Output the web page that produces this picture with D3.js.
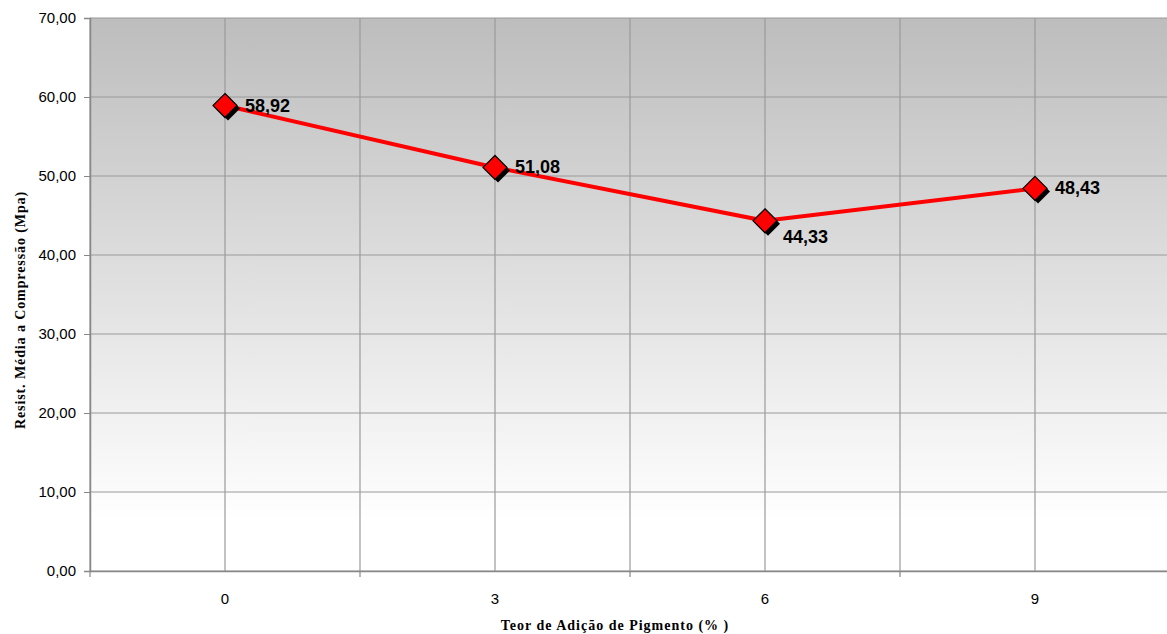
<!DOCTYPE html>
<html><head><meta charset="utf-8">
<script src="https://cdn.jsdelivr.net/npm/d3@7"></script>
<style>body{margin:0;background:#fff;overflow:hidden}</style>
</head><body><svg id="c" width="1167" height="634"></svg>
<script>
const categories = ["0","3","6","9"];
const values = [58.92, 51.08, 44.33, 48.43];
const valueLabels = ["58,92","51,08","44,33","48,43"];
const yTicks = [0,10,20,30,40,50,60,70];
const yTitle = "Resist. Média a Compressão (Mpa)";
const xTitle = "Teor de Adição de Pigmento (% )";

const svg = d3.select("#c");
const L = 90, T = 18, R = 1170, B = 571;
const x = d3.scaleBand().domain(categories).range([L, R]).padding(0);
const y = d3.scaleLinear().domain([0, 70]).range([B, T]);

const defs = svg.append("defs");
const g = defs.append("linearGradient").attr("id","bg").attr("x1",0).attr("y1",0).attr("x2",0).attr("y2",1);
g.append("stop").attr("offset","0%").attr("stop-color","#bdbdbd");
g.append("stop").attr("offset","91%").attr("stop-color","#ffffff");
g.append("stop").attr("offset","100%").attr("stop-color","#ffffff");

svg.append("rect").attr("x",L).attr("y",T).attr("width",R-L).attr("height",B-T).attr("fill","url(#bg)");

svg.append("g").selectAll("line").data(yTicks).join("line")
  .attr("x1",L).attr("x2",R).attr("y1",d=>y(d)).attr("y2",d=>y(d))
  .attr("stroke","#9a9a9a").attr("stroke-width",1.2);
const vlines = [];
categories.forEach(c=>{vlines.push(x(c)); vlines.push(x(c)+x.bandwidth()/2);});
vlines.push(R);
svg.append("g").selectAll("line").data(vlines).join("line")
  .attr("x1",d=>d).attr("x2",d=>d).attr("y1",T).attr("y2",B)
  .attr("stroke","#9a9a9a").attr("stroke-width",1.2);

const yAxis = d3.axisLeft(y).tickValues(yTicks).tickSize(6).tickPadding(8)
  .tickFormat(d=>d3.format(".2f")(d).replace(".",","));
const ya = svg.append("g").attr("transform",`translate(${L},0)`).call(yAxis);
ya.select(".domain").attr("stroke","#888").attr("stroke-width",1.5);
ya.selectAll(".tick line").attr("stroke","#888");
ya.selectAll("text").attr("font-family","Liberation Sans, Arial, sans-serif").attr("font-size",15).attr("fill","#000");

const xAxis = d3.axisBottom(x).tickSize(0).tickPadding(22);
const xa = svg.append("g").attr("transform",`translate(0,${B})`).call(xAxis);
xa.select(".domain").attr("stroke","#888").attr("stroke-width",1.5);
xa.selectAll("text").attr("font-family","Liberation Sans, Arial, sans-serif").attr("font-size",15).attr("fill","#000");
svg.append("g").selectAll("line").data(categories.map(c=>x(c))).join("line")
  .attr("x1",d=>d).attr("x2",d=>d).attr("y1",B).attr("y2",B+6)
  .attr("stroke","#888").attr("stroke-width",1.2);

const cx = c => x(c) + x.bandwidth()/2;
const line = d3.line().x((d,i)=>cx(categories[i])).y(d=>y(d));
svg.append("path").datum(values).attr("d",line).attr("fill","none")
  .attr("stroke","#ff0000").attr("stroke-width",4).attr("stroke-linejoin","round");

const dia = "M0,-12L12,0L0,12L-12,0Z";
svg.append("g").selectAll("path").data(values).join("path")
  .attr("d",dia).attr("transform",(d,i)=>`translate(${cx(categories[i])+3},${y(d)+3})`)
  .attr("fill","#000");
svg.append("g").selectAll("path").data(values).join("path")
  .attr("d",dia).attr("transform",(d,i)=>`translate(${cx(categories[i])},${y(d)})`)
  .attr("fill","#ff0000").attr("stroke","#000").attr("stroke-width",1.2);

const offs = [[20,6],[20,6],[18,22],[20,6]];
svg.append("g").selectAll("text").data(values).join("text")
  .attr("x",(d,i)=>cx(categories[i])+offs[i][0]).attr("y",(d,i)=>y(d)+offs[i][1])
  .attr("font-family","Liberation Sans, Arial, sans-serif").attr("font-weight","bold").attr("font-size",18)
  .attr("fill","#000").text((d,i)=>valueLabels[i]);

svg.append("text").attr("transform",`translate(25,310) rotate(-90)`).attr("text-anchor","middle")
  .attr("font-family","Liberation Serif, Times New Roman, serif").attr("font-weight","bold").attr("font-size",14)
  .attr("letter-spacing",0.9).text(yTitle);
svg.append("text").attr("x",615).attr("y",630).attr("text-anchor","middle")
  .attr("font-family","Liberation Serif, Times New Roman, serif").attr("font-weight","bold").attr("font-size",14)
  .attr("letter-spacing",1).text(xTitle);
</script></body></html>
